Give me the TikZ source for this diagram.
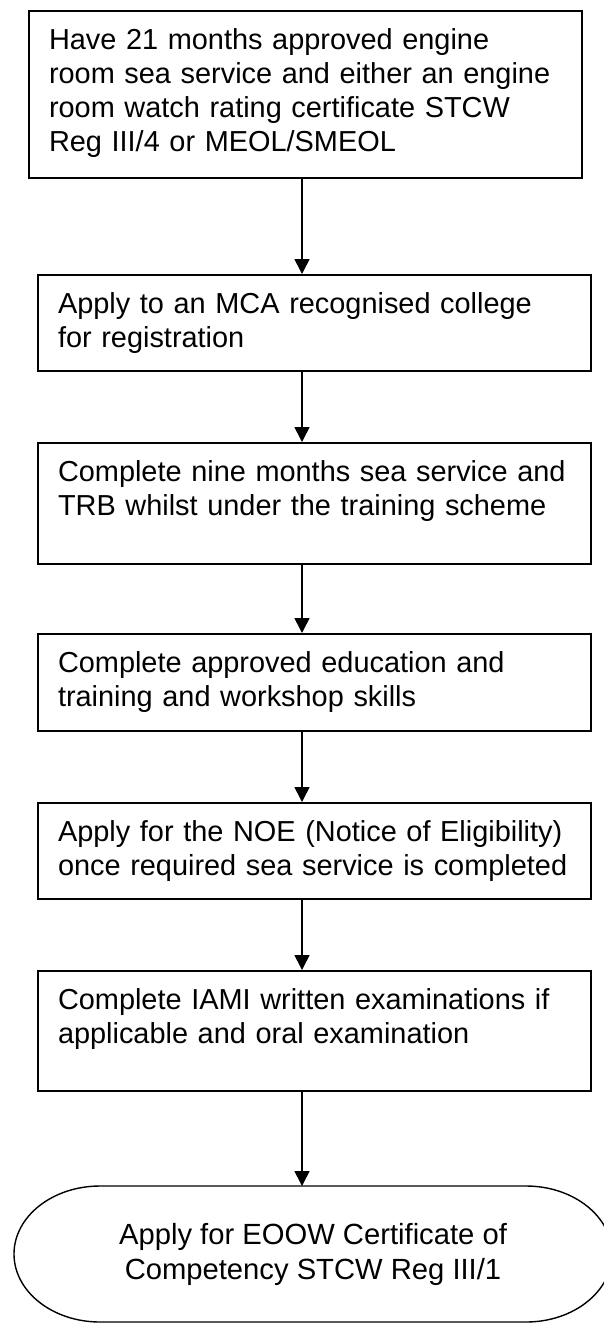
\documentclass[tikz,border=0pt]{standalone}
\usepackage{fontspec}
\setmainfont{Liberation Sans}
\usetikzlibrary{arrows.meta}

\begin{document}
\begin{tikzpicture}[x=0.5pt,y=0.5pt,
    stepbox/.style={draw, line width=1pt, anchor=north west, inner xsep=10pt, inner ysep=0pt,
      text width=256.5pt, align=left, text height=19pt, font=\fontsize{14.45}{17}\selectfont},
    flowarrow/.style={line width=0.8pt, -{Triangle[length=7.5pt,width=7.5pt]}}]
    \useasboundingbox (0,0) rectangle (604,-1323);
    \clip (0,0) rectangle (604,-1323);
    \coordinate (ax) at (302,0);
    \node[stepbox, text depth=64.5pt] (s1) at (28,-10) {Have 21 months approved engine\\room sea service and either an engine\\room watch rating certificate STCW\\Reg III/4 or MEOL/SMEOL};
    \node[stepbox, text depth=29pt] (s2) at (37,-274) {Apply to an MCA recognised college\\for registration};
    \node[stepbox, text depth=41.5pt] (s3) at (37,-442) {Complete nine months sea service and\\TRB whilst under the training scheme};
    \node[stepbox, text depth=29.5pt] (s4) at (37,-633) {Complete approved education and\\training and workshop skills};
    \node[stepbox, text depth=29pt] (s5) at (37,-802) {Apply for the NOE (Notice of Eligibility)\\once required sea service is completed};
    \node[stepbox, text depth=41pt] (s6) at (37,-970) {Complete IAMI written examinations if\\applicable and oral examination};
    \node[minimum width=299pt, minimum height=68pt, inner sep=0pt, outer sep=0pt, align=center,
      font=\fontsize{14.6}{17.5}\selectfont] (fin) at (313,-1254) {Apply for EOOW Certificate of\\Competency STCW Reg III/1};
    \draw[line width=0.7pt] ([xshift=43pt]fin.north west) -- ([xshift=-43pt]fin.north east)
      arc[start angle=90, end angle=-90, x radius=43pt, y radius=34pt]
      -- ([xshift=43pt]fin.south west)
      arc[start angle=270, end angle=90, x radius=43pt, y radius=34pt] -- cycle;
    \draw[flowarrow] (s1.south -| ax) -- (s2.north -| ax);
    \draw[flowarrow] (s2.south -| ax) -- (s3.north -| ax);
    \draw[flowarrow] (s3.south -| ax) -- (s4.north -| ax);
    \draw[flowarrow] (s4.south -| ax) -- (s5.north -| ax);
    \draw[flowarrow] (s5.south -| ax) -- (s6.north -| ax);
    \draw[flowarrow] (s6.south -| ax) -- (fin.north -| ax);
\end{tikzpicture}
\end{document}
